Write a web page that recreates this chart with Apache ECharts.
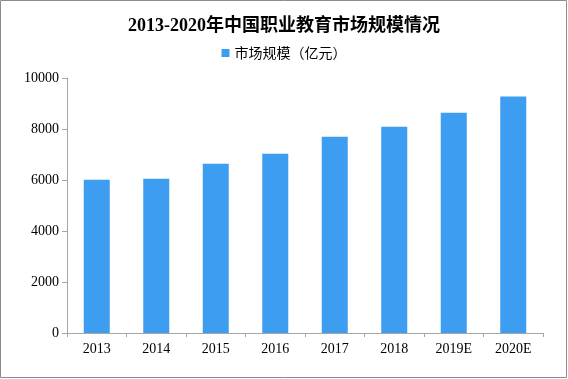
<!DOCTYPE html>
<html><head><meta charset="utf-8">
<script src="https://cdn.jsdelivr.net/npm/echarts@6/dist/echarts.min.js"></script>
<style>html,body{margin:0;padding:0;background:#fff}#c{width:568px;height:379px}</style>
</head><body><div id="c"></div>
<script>
const titleText = '2013-2020年中国职业教育市场规模情况';
const seriesName = '市场规模（亿元）';
const categories = ['2013','2014','2015','2016','2017','2018','2019E','2020E'];
const values = [6010, 6050, 6640, 7030, 7700, 8090, 8640, 9270];
const yTicks = [0, 2000, 4000, 6000, 8000, 10000];

const chart = echarts.init(document.getElementById('c'), null, {renderer:'canvas'});
const serif = '"Liberation Serif","Noto Sans CJK SC",serif';
chart.setOption({
  animation:false,
  backgroundColor:'#fff',
  title:{text:titleText,left:'center',top:12,textStyle:{fontFamily:serif,fontSize:18,fontWeight:'bold',color:'#000'}},
  legend:{top:41,left:'center',itemWidth:8,itemHeight:8,itemGap:4,icon:'rect',
    textStyle:{fontFamily:'"Noto Sans CJK SC",sans-serif',fontSize:14,color:'#000'},data:[seriesName]},
  grid:{left:67,right:25,top:78,bottom:46},
  xAxis:{type:'category',data:categories,boundaryGap:true,
    axisLine:{lineStyle:{color:'#a6a6a6',width:1}},
    axisTick:{show:true,length:4,lineStyle:{color:'#a6a6a6'}},
    axisLabel:{fontFamily:serif,fontSize:14,color:'#000',margin:9}},
  yAxis:{type:'value',min:yTicks[0],max:yTicks[yTicks.length-1],interval:2000,
    axisLine:{show:true,lineStyle:{color:'#a6a6a6'}},
    axisTick:{show:true,length:5,lineStyle:{color:'#a6a6a6'}},
    splitLine:{show:false},
    axisLabel:{fontFamily:serif,fontSize:14,color:'#000',margin:8,formatter:v=>String(v)}},
  series:[{name:seriesName,type:'bar',data:values,barWidth:26,itemStyle:{color:'#3d9df0'}}],
  graphic:[{type:'rect',shape:{x:0.5,y:0.5,width:566,height:377},style:{fill:'none',stroke:'#8c8c8c',lineWidth:1},silent:true}]
});
</script></body></html>
